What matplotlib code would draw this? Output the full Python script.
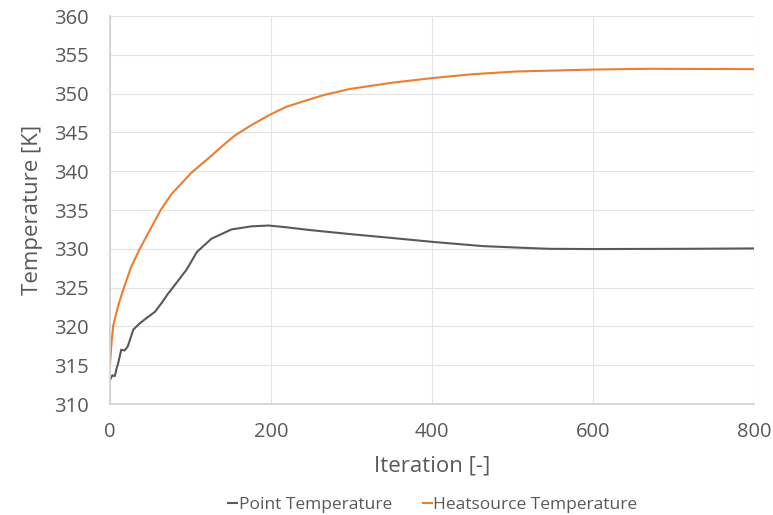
import matplotlib
matplotlib.use("Agg")
import matplotlib.pyplot as plt

plt.rcParams['font.family'] = ['Open Sans', 'DejaVu Sans']

# point temperature
point_iter = [0, 3, 6, 8, 10, 14, 18, 22, 29, 37, 47, 56, 64, 72, 81, 95, 108,
              126, 151, 176, 197, 217, 250, 298, 350, 400, 463, 520, 546, 600,
              711, 800]
point_temp = [313.1, 313.7, 313.6, 314.5, 315.2, 317.0, 316.9, 317.4, 319.6,
              320.4, 321.2, 321.9, 323.0, 324.2, 325.4, 327.3, 329.6, 331.3,
              332.5, 332.9, 333.0, 332.8, 332.4, 331.9, 331.4, 330.9, 330.35,
              330.1, 330.0, 329.97, 330.0, 330.05]

# heatsource temperature
heat_iter = [0, 2, 4, 10, 16, 26, 37, 50, 63, 76, 101, 126, 139, 155, 175,
             199, 219, 240, 265, 298, 350, 400, 450, 504, 600, 670, 800]
heat_temp = [315.2, 318.0, 320.1, 322.6, 324.6, 327.6, 330.0, 332.5, 335.0,
             337.0, 339.8, 342.0, 343.2, 344.6, 345.9, 347.3, 348.3, 349.0,
             349.8, 350.6, 351.4, 352.0, 352.5, 352.85, 353.1, 353.2, 353.15]

text_col = '#595959'

fig = plt.figure(figsize=(7.73, 5.15), dpi=100)
ax = fig.add_axes([0.1423, 0.2155, 0.8331, 0.7534])

ax.plot(point_iter, point_temp, color='#595959', lw=1.5, label='Point Temperature')
ax.plot(heat_iter, heat_temp, color='#ED7D31', lw=1.5, label='Heatsource Temperature')

ax.set_xlim(0, 800)
ax.set_ylim(310, 360)
ax.set_xticks([0, 200, 400, 600, 800])
ax.set_yticks(range(310, 361, 5))
ax.grid(True, color='#e3e3e3', lw=0.8)
ax.set_axisbelow(True)

for s in ['top', 'right']:
    ax.spines[s].set_visible(False)
for s in ['left', 'bottom']:
    ax.spines[s].set_color('#d0d0d0')
    ax.spines[s].set_linewidth(1.2)

ax.tick_params(length=0, labelsize=14.5, colors=text_col)
ax.tick_params(axis='y', pad=15)
ax.tick_params(axis='x', pad=13)
ax.set_xlabel('Iteration [-]', fontsize=16, color=text_col, labelpad=10)
ax.set_ylabel('Temperature [K]', fontsize=16, color=text_col, labelpad=8)

leg = fig.legend(loc='lower center', bbox_to_anchor=(0.56, -0.026), ncol=2,
                 frameon=False, fontsize=12.5, handlelength=0.5,
                 handletextpad=0.1, columnspacing=1.8, labelcolor=text_col)

fig.savefig('out.png', dpi=100)
